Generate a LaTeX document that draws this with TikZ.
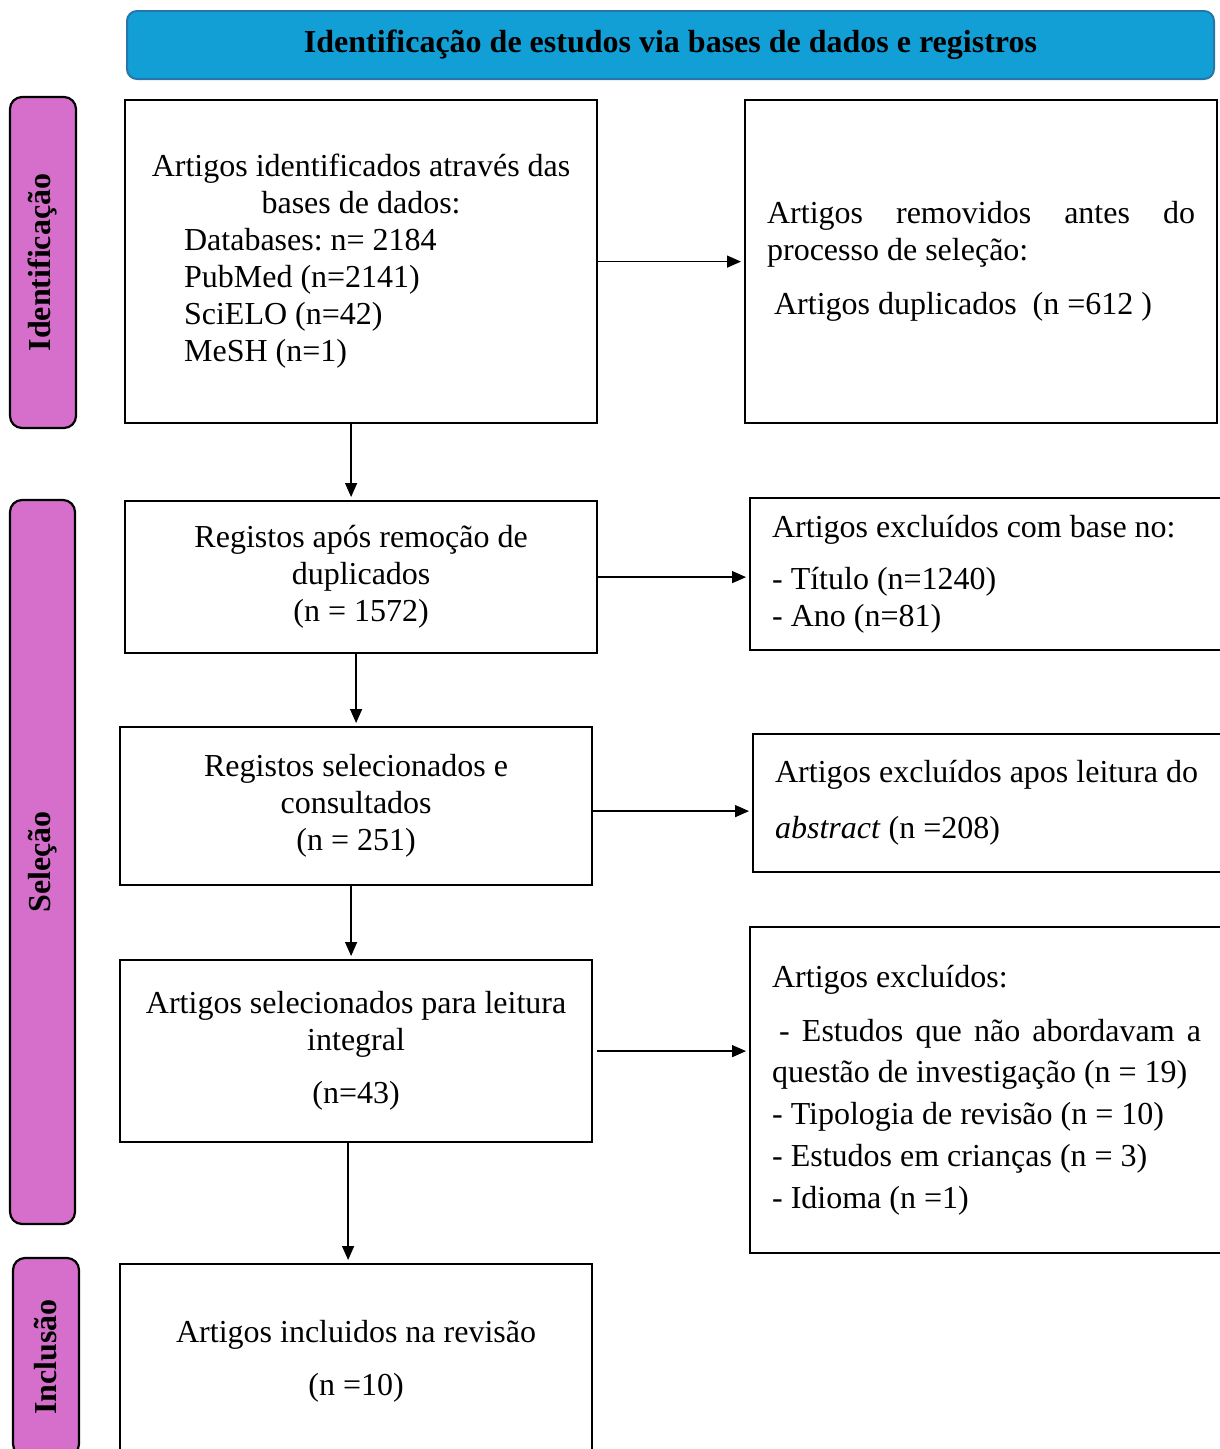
\documentclass[tikz,border=0pt]{standalone}
\usepackage{fontspec}
\setmainfont{Liberation Serif}
\usetikzlibrary{arrows.meta}
\definecolor{headblue}{RGB}{18,159,214}
\definecolor{headedge}{RGB}{38,118,172}
\definecolor{stagepink}{RGB}{214,111,203}
\frenchspacing

\begin{document}
\begin{tikzpicture}[x=1pt,y=-1pt,
    every node/.style={font=\fontsize{32}{37}\selectfont},
    box/.style={draw,line width=2.2pt,anchor=north west,inner xsep=22pt,inner ysep=0pt,text width=428pt},
    stage/.style={draw,fill=stagepink,line width=2.2pt,rounded corners=12pt,rotate=90,minimum height=66pt,font=\fontsize{32}{37}\selectfont\bfseries},
    arr/.style={line width=1.4pt,shorten >=3pt,-{Triangle[length=14pt,width=12pt]}}]
    \useasboundingbox (0,0) rectangle (1220,1449);

    % cabecalho
    \node[draw=headedge,fill=headblue,line width=2pt,rounded corners=10pt,anchor=north west,
        minimum width=1087pt,minimum height=68pt,font=\fontsize{32}{37}\selectfont\bfseries]
        (head) at (126,10) {\raisebox{-3pt}{Identificação de estudos via bases de dados e registros}};

    % fases
    \node[stage,minimum width=331pt] (stident) at (43,262.5) {Identificação};
    \node[stage,minimum width=724pt,minimum height=65pt] (stsel) at (42.5,862) {Seleção};
    \node[stage,minimum width=198pt] (stincl) at (46,1357) {Inclusão};

    % coluna principal
    \node[box,align=flush center,minimum height=323pt] (ident) at (124,99)
        {Artigos identificados através das\\ bases de dados:\\
         \makebox[428pt][l]{\hspace{37pt}Databases: n= 2184}\\
         \makebox[428pt][l]{\hspace{37pt}PubMed (n=2141)}\\
         \makebox[428pt][l]{\hspace{37pt}SciELO (n=42)}\\
         \makebox[428pt][l]{\hspace{37pt}MeSH (n=1)}};
    \node[box,align=flush center,minimum height=152pt] (reg1) at (124,500)
        {Registos após remoção de\\ duplicados\\ (n = 1572)};
    \node[box,align=flush center,minimum height=158pt] (reg2) at (119,726)
        {Registos selecionados e\\ consultados\\ (n = 251)};
    \node[box,align=flush center,minimum height=182pt] (reg3) at (119,959)
        {Artigos selecionados para leitura\\ integral\\[16pt] (n=43)\\[8pt]};
    \node[box,align=flush center,minimum height=194pt] (incl) at (119,1263)
        {Artigos incluidos na revisão\\[16pt] (n =10)};

    % exclusoes
    \node[box,align=flush left,minimum height=323pt] (removed) at (744,99)
        {\makebox[428pt][l]{Artigos\hfill removidos\hfill antes\hfill do}\\ processo de seleção:\\[17pt]
         \hspace{7pt}Artigos duplicados~ (n =612 )\\[10pt]};
    \node[box,align=flush left,text width=436pt,minimum height=152pt] (excl1) at (749,497)
        {Artigos excluídos com base no:\\[15pt] - Título (n=1240)\\ - Ano (n=81)};
    \node[box,align=flush left,text width=436pt,minimum height=138pt] (excl2) at (752,733)
        {Artigos excluídos apos leitura do\\[19pt] \textit{abstract} (n =208)\\[12pt]};
    \node[box,align=flush left,text width=436pt,minimum height=326pt] (excl3) at (749,926)
        {Artigos excluídos:\\[17pt]
         \makebox[429pt][l]{\hspace{7pt}-\hfill Estudos\hfill que\hfill não\hfill abordavam\hfill a}\\[4pt]
         questão de investigação (n = 19)\\[5pt]
         - Tipologia de revisão (n = 10)\\[5pt]
         - Estudos em crianças (n = 3)\\[5pt]
         - Idioma (n =1)};

    % setas
    \draw[arr] (ident.east) -- (removed.west);
    \draw[arr] ([xshift=-10pt]ident.south) -- ([xshift=-10pt]ident.south |- reg1.north);
    \draw[arr] (reg1.east) -- (reg1.east -| excl1.west);
    \draw[arr] ([xshift=-5pt]reg1.south) -- ([xshift=-5pt]reg1.south |- reg2.north);
    \draw[arr] ([yshift=-5pt]reg2.east) -- ([yshift=-5pt]reg2.east -| excl2.west);
    \draw[arr] ([xshift=-5pt]reg2.south) -- ([xshift=-5pt]reg2.south |- reg3.north);
    \draw[arr] ([xshift=4pt]reg3.east) -- (reg3.east -| excl3.west);
    \draw[arr] ([xshift=-8pt]reg3.south) -- ([xshift=-8pt]reg3.south |- incl.north);
\end{tikzpicture}
\end{document}
